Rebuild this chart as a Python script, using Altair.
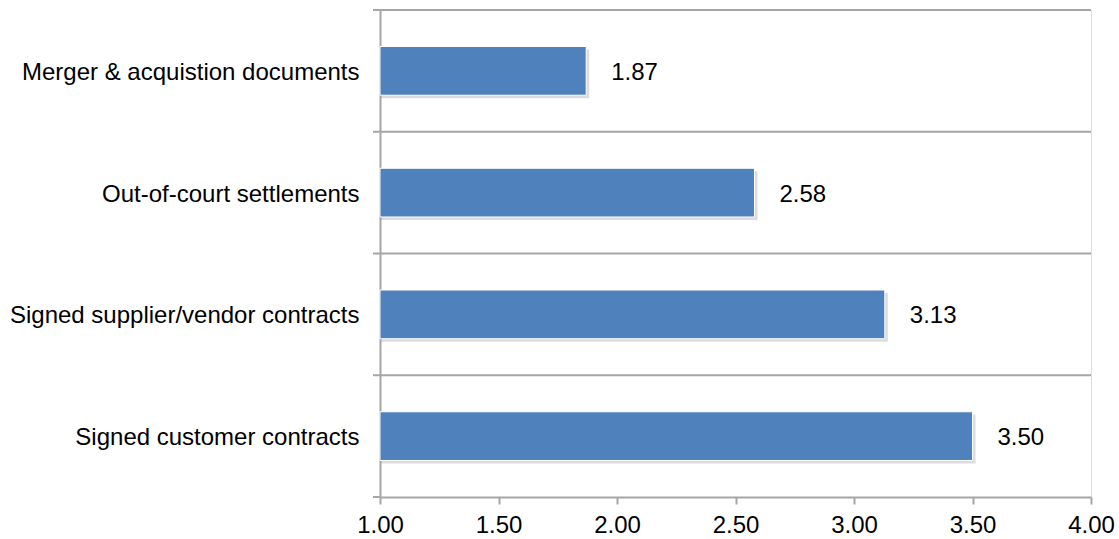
import altair as alt
import pandas as pd

categories = [
    "Merger & acquistion documents",
    "Out-of-court settlements",
    "Signed supplier/vendor contracts",
    "Signed customer contracts",
]
values = [1.87, 2.58, 3.13, 3.50]
x_ticks = [1.0, 1.5, 2.0, 2.5, 3.0, 3.5, 4.0]

df = pd.DataFrame({"category": categories, "value": values})

W, H = 711, 487
FONT = "Liberation Sans"
FS = 24
GRID = "#a6a6a6"

yenc = alt.Y(
    "category:N",
    sort=categories,
    scale=alt.Scale(paddingInner=0, paddingOuter=0),
    axis=alt.Axis(
        title=None, ticks=False, grid=False, labelPadding=21, labelOffset=2,
        labelFontSize=FS, labelFont=FONT, labelColor="#000000",
        domainColor=GRID, domainWidth=2, labelLimit=400,
    ),
)
xscale = alt.Scale(domain=[1, 4], nice=False, zero=False)
xenc = alt.X(
    "value:Q",
    scale=xscale,
    axis=alt.Axis(
        title=None, values=x_ticks, format=".2f", grid=False, labelFlush=False,
        tickColor=GRID, tickWidth=2, tickSize=7, labelPadding=9,
        labelFontSize=FS, labelFont=FONT, labelColor="#000000",
        domainColor=GRID, domainWidth=2,
    ),
)

base = alt.Chart(df)

grid = base.mark_rule(color=GRID, strokeWidth=2).encode(
    y=alt.Y("category:N", sort=categories, bandPosition=0),
    x=alt.value(-7),
    x2=alt.value(W),
)
bottom_tick = base.mark_rule(color=GRID, strokeWidth=2).encode(
    y=alt.value(H), x=alt.value(-7), x2=alt.value(0)
)

shadow = base.mark_bar(
    color="#9a9a9a", opacity=0.35, height=alt.RelativeBandSize(0.4),
    xOffset=3, yOffset=3,
).encode(y=yenc, x=xenc, x2=alt.datum(1))

bars = base.mark_bar(
    color="#4F81BD", height=alt.RelativeBandSize(0.4),
    stroke="#ffffff", strokeWidth=1,
).encode(y=yenc, x=xenc, x2=alt.datum(1))

labels = base.mark_text(
    align="left", baseline="middle", dx=25, dy=2, fontSize=FS, font=FONT, color="#000000"
).encode(
    y=yenc,
    x=xenc,
    text=alt.Text("value:Q", format=".2f"),
)

chart = (
    alt.layer(grid, bottom_tick, shadow, bars, labels)
    .properties(
        width=W, height=H,
        autosize=alt.AutoSizeParams(type="none"),
        padding={"left": 380, "top": 10, "right": 28, "bottom": 42},
    )
    .configure_view(stroke=None)
    .configure(background="#ffffff")
)

chart.save("out.html", embed_options={"renderer": "svg", "actions": False})
